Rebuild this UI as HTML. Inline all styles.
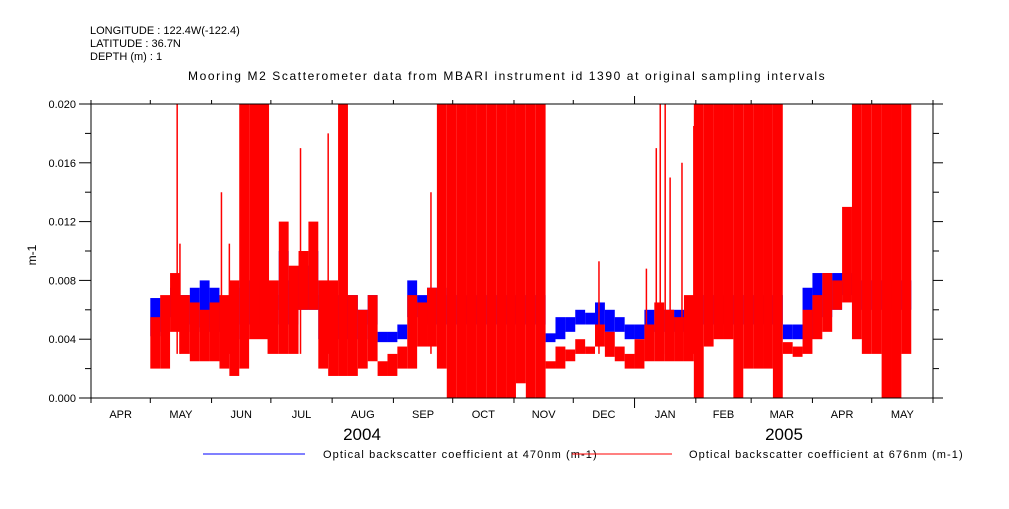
<!DOCTYPE html>
<html><head><meta charset="utf-8"><style>
body{margin:0;background:#fff;}
svg text{font-family:"Liberation Sans",sans-serif;fill:#000;}
</style></head><body>
<svg id="chart" width="1009" height="504" viewBox="0 0 1009 504" xmlns="http://www.w3.org/2000/svg">
<g font-size="11">
<text x="90" y="34">LONGITUDE : 122.4W(-122.4)</text>
<text x="90" y="47">LATITUDE : 36.7N</text>
<text x="90" y="60">DEPTH (m) : 1</text>
</g>
<text x="188" y="80" font-size="12" letter-spacing="1.6">Mooring M2 Scatterometer data from MBARI instrument id 1390 at original sampling intervals</text>
<text x="36" y="255" font-size="12" text-anchor="middle" transform="rotate(-90 36 255)">m-1</text>
<g id="marks"></g>
<g id="axes"></g>
<g font-size="11" letter-spacing="1.1">
<line x1="203" y1="454" x2="305" y2="454" stroke="#0000ff" stroke-width="1"/>
<text x="323" y="458">Optical backscatter coefficient at 470nm (m-1)</text>
<line x1="572" y1="454" x2="672" y2="454" stroke="#ff0000" stroke-width="1"/>
<text x="689" y="458">Optical backscatter coefficient at 676nm (m-1)</text>
</g>
</svg>
<script>
// bins of 5 days starting day 30 (May 1 2004), days counted from Apr 1 2004; values in 0.001 m-1
const binStartDay = 30;
const binDays = 5;
const blueLo = [4.2,4.5,5.5,5,4.5,4.8,4.5,4,4,5,5,5,6,5,5,6,6,4,4,4,4,4,5,3.8,3.8,4,5.5,5.5,5,5,5,5,5,5,5,5,5,5,5,5,3.8,4,4.5,5,5,5,4.5,4.5,4,4,4.5,4.5,4.5,4.5,4.5,5,5,5,5,5,5,5,5,5,4,4,4,5.5,5.5,6,7,6,6,6,6,6,6];
const blueHi = [6.8,6.8,7.5,7,7.5,8,7.5,5.5,7.5,8,8,8,7,10,8,9,10,7,6,7,7,6,7,4.5,4.5,5,8,7,7.5,7.5,7,7,7,7,7,7,7,7,7,7,4.4,5.5,5.5,6,5.8,6.5,6,5.5,5,5,6,6,6,6,6,7,7,7,7,7,7,7,7,7,5,5,7.5,8.5,8.5,8.5,8.5,8,8,8,8,8,8];
const redLo = [2,2,4.5,3,2.5,2.5,2.5,2,1.5,2,4,4,3,3,3,6,6,2,1.5,1.5,1.5,2,2.5,1.5,1.5,2,2,3.5,3.5,2,0,0,0,0,0,0,0,1,0,0,2,2,2.5,3,3,3.5,2.8,2.5,2,2,2.5,2.5,2.5,2.5,2.5,0,3.5,4,4,0,2,2,2,0,3,2.8,3,4,4.5,6,6.5,4,3,3,0,0,3];
const redHi = [5.5,7,8.5,7,6.5,6,6.5,7,8,20,20,20,8,12,9,10,12,8,8,20,7,6,7,2.5,3,3.5,7,6.5,7.5,20,20,20,20,20,20,20,20,20,20,20,2.5,3.5,3.3,4,3.5,5,4.5,3.5,3,4,5,6.5,6,5.5,7,20,20,20,20,20,20,20,20,20,3.8,3.5,6,7,8.5,8,13,20,20,20,20,20,20];
const spikeDays = [43.6,45,66,70,89.7,106,120,172,257,281,286,288,290.5,293,299,305];
const spikeVals = [20,10.5,14,10.5,20,17,18,14,9.3,8.8,17,20,20,15,16,18.5];
const yTicks = [0,0.004,0.008,0.012,0.016,0.020];
const yTickLabels = ["0.000","0.004","0.008","0.012","0.016","0.020"];
const monthStartDays = [0,30,61,91,122,153,183,214,244,275,306,334,365,395,426];
const monthLabels = ["APR","MAY","JUN","JUL","AUG","SEP","OCT","NOV","DEC","JAN","FEB","MAR","APR","MAY"];
const years = ["2004","2005"];

const L=91,R=933,T=104,B=398,D0=0,D1=426,Y0=0,Y1=0.020;
const xs=d=>L+(d-D0)/(D1-D0)*(R-L);
const ys=v=>B-(v-Y0)/(Y1-Y0)*(B-T);
const NS="http://www.w3.org/2000/svg";
function mk(tag,attrs,parent){const e=document.createElementNS(NS,tag);for(const k in attrs)e.setAttribute(k,attrs[k]);parent.appendChild(e);return e;}
const marks=document.getElementById('marks'), axes=document.getElementById('axes');
const gb=mk('g',{},marks);


const gr=mk('g',{},marks);


for(let i=0;i<blueLo.length;i++){
  const d=binStartDay+i*binDays, x0=xs(d), x1=xs(d+binDays), w=x1-x0;
  const yb1=ys(blueHi[i]/1000), yb0=ys(blueLo[i]/1000);
  const rb=mk('rect',{x:x0,y:yb1,width:w,height:Math.max(1,yb0-yb1),fill:'#0000ff'},gb);
  
  
  const yr1=ys(redHi[i]/1000), yr0=ys(redLo[i]/1000);
  const rr=mk('rect',{x:x0,y:yr1,width:w,height:Math.max(1,yr0-yr1),fill:'#ff0000'},gr);
  
  
}
for(let i=0;i<spikeDays.length;i++){
  const x=xs(spikeDays[i]);
  const s=mk('line',{x1:x,x2:x,y1:ys(spikeVals[i]/1000),y2:ys(0.003),stroke:'#ff0000','stroke-width':1.5},gr);
  
  
}
const fr=mk('rect',{x:L,y:T,width:R-L,height:B-T,fill:'none',stroke:'#000','stroke-width':1},axes);


mk('line',{x1:L,x2:943,y1:B,y2:B,stroke:'#000'},axes);
mk('line',{x1:L,x2:943,y1:T,y2:T,stroke:'#000'},axes);
for(let i=0;i<=10;i++){
  const v=i*0.002, y=ys(v);
  mk('line',{x1:L-(i%2?6:12),x2:L,y1:y,y2:y,stroke:'#000'},axes);
  mk('line',{x1:R,x2:R+(i%2?6:10),y1:y,y2:y,stroke:'#000'},axes);
}
yTicks.forEach((v,i)=>{
  const t=mk('text',{x:76,y:ys(v)+4,'font-size':11,'text-anchor':'end'},axes);
  t.textContent=yTickLabels[i];
  
  
});
monthStartDays.forEach((d,i)=>{
  const x=xs(d), big=(d===275);
  mk('line',{x1:x,x2:x,y1:B,y2:B+(big?10:5),stroke:'#000'},axes);
  mk('line',{x1:x,x2:x,y1:T,y2:T-(big?8:4),stroke:'#000'},axes);
  if(i<monthLabels.length){
    const t=mk('text',{x:(xs(d)+xs(monthStartDays[i+1]))/2,y:418,'font-size':11,'text-anchor':'middle'},axes);
    t.textContent=monthLabels[i];
    
    
  }
});
years.forEach((yv,i)=>{
  const t=mk('text',{x:i===0?362:784,y:440,'font-size':17,'text-anchor':'middle'},axes);
  t.textContent=yv;
  
  
});
</script>
</body></html>
